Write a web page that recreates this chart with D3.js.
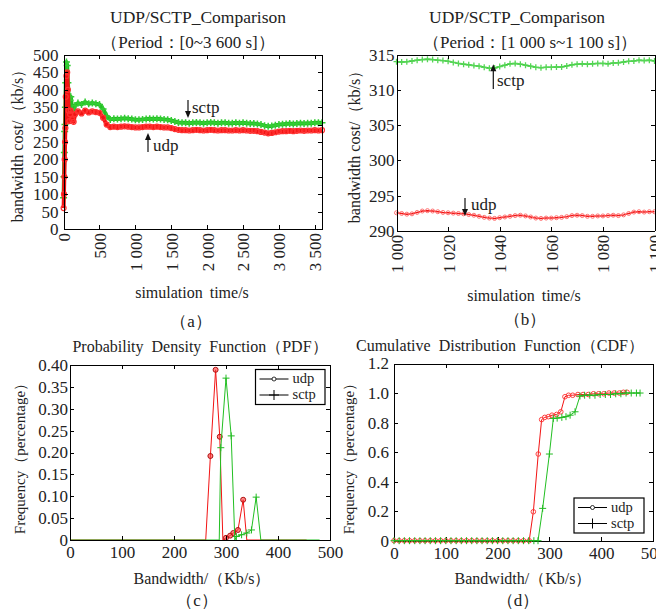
<!DOCTYPE html>
<html lang="en">
<head>
<meta charset="utf-8">
<title>UDP/SCTP comparison</title>
<script src="https://cdn.jsdelivr.net/npm/d3@7"></script>
<style>
    body { margin: 0; background: #fff; }
    text { font-family: "Liberation Serif", "Times New Roman", serif; fill: #222; }
    .axis path, .axis line { stroke: #000; shape-rendering: crispEdges; }
</style>
</head>
<body>
<script>
// (a) whole run 0 - 3600 s
const timeA = [0, 5, 10, 15, 20, 25, 30, 40, 50, 60, 70, 80, 90, 100, 120, 140, 160, 200, 250, 300, 350, 400, 450, 500, 550, 600, 650,
    700, 750, 800, 850, 900, 950, 1000, 1050, 1100, 1150, 1200, 1250, 1300, 1350, 1400, 1450, 1500, 1550, 1600, 1650,
    1700, 1750, 1800, 1850, 1900, 1950, 2000, 2050, 2100, 2150, 2200, 2250, 2300, 2350, 2400, 2450, 2500, 2550, 2600, 2650,
    2700, 2750, 2800, 2850, 2900, 2950, 3000, 3050, 3100, 3150, 3200, 3250, 3300, 3350, 3400, 3450, 3500, 3550, 3600]
const sctpA = [90, 150, 220, 280, 300, 350, 420, 480, 470, 420, 380, 340, 370, 380, 345, 337, 355, 362, 358, 365, 360, 362, 360, 358, 345, 325, 315,
    317, 316, 317, 318, 317, 316, 314, 314, 315, 316, 317, 316, 317, 316, 315, 314, 312, 309, 306, 305,
    305, 304, 305, 306, 305, 304, 305, 306, 305, 304, 305, 305, 304, 304, 305, 304, 305, 304, 303, 303,
    302, 300, 297, 295, 296, 298, 300, 301, 302, 303, 302, 303, 304, 303, 304, 304, 305, 305, 305]
const udpA = [60, 100, 150, 200, 250, 290, 380, 440, 450, 400, 340, 310, 330, 340, 315, 308, 330, 338, 332, 340, 335, 338, 336, 334, 320, 300, 293,
    294, 293, 294, 295, 294, 293, 292, 292, 293, 294, 294, 293, 294, 293, 292, 292, 290, 287, 285, 284,
    284, 283, 284, 285, 284, 283, 284, 285, 284, 283, 284, 284, 283, 283, 284, 283, 284, 283, 282, 282,
    281, 279, 277, 275, 276, 278, 280, 281, 281, 282, 281, 282, 283, 282, 283, 283, 284, 283, 284]

// (b) zoom 1000 - 1100 s
const timeB = [1000, 1002, 1004, 1006, 1008, 1010, 1012, 1014, 1016, 1018, 1020, 1022, 1024, 1026, 1028, 1030, 1032, 1034, 1036, 1038,
    1040, 1042, 1044, 1046, 1048, 1050, 1052, 1054, 1056, 1058, 1060, 1062, 1064, 1066, 1068, 1070, 1072, 1074, 1076, 1078,
    1080, 1082, 1084, 1086, 1088, 1090, 1092, 1094, 1096, 1098, 1100]
const sctpB = [314.05, 314.00, 314.05, 314.15, 314.25, 314.35, 314.40, 314.35, 314.25, 314.20, 314.10, 313.95, 313.80, 313.70, 313.60,
    313.50, 313.40, 313.25, 313.10, 313.15, 313.35, 313.55, 313.75, 313.80, 313.70, 313.55, 313.40, 313.25, 313.20, 313.25,
    313.25, 313.30, 313.30, 313.45, 313.60, 313.70, 313.75, 313.70, 313.75, 313.80, 313.80, 313.75, 313.85, 313.90, 314.00,
    314.10, 314.15, 314.25, 314.20, 314.25, 314.15]
const udpB = [292.55, 292.45, 292.35, 292.40, 292.60, 292.80, 292.85, 292.80, 292.70, 292.60, 292.55, 292.50, 292.45, 292.40, 292.30,
    292.20, 292.05, 291.90, 291.80, 291.75, 291.85, 291.95, 292.05, 292.15, 292.20, 292.10, 291.95, 291.80, 291.75, 291.80,
    291.80, 291.85, 291.90, 292.00, 292.15, 292.20, 292.15, 292.05, 292.05, 292.10, 292.10, 292.15, 292.20, 292.15, 292.25,
    292.45, 292.65, 292.70, 292.65, 292.70, 292.70]

// (c) PDF
const pdfBinsUdp = [0, 261, 270, 280, 288, 294, 300, 308, 314, 323, 333, 340, 455]
const pdfUdp = [0, 0, 0.192, 0.389, 0.236, 0, 0.005, 0.01, 0.016, 0.023, 0.092, 0, 0]
const pdfBinsSctp = [0, 287, 290, 300, 310, 317, 320, 330, 340, 349, 358, 367, 480]
const pdfSctp = [0, 0, 0.211, 0.37, 0.238, 0, 0.008, 0.012, 0.016, 0.023, 0.098, 0, 0]

// (d) CDF
const cdfBinsUdp = [0, 10, 20, 30, 40, 50, 60, 70, 80, 90, 100, 110, 120, 130, 140, 150, 160, 170, 180, 190, 200, 210, 220, 230, 240, 250,
    261, 269, 278.5, 285, 291, 298, 305, 314, 322, 330, 337, 345, 355, 365, 375, 385, 395, 405, 415, 425, 435, 443, 450]
const cdfUdp = [0, 0, 0, 0, 0, 0, 0, 0, 0, 0, 0, 0, 0, 0, 0, 0, 0, 0, 0, 0, 0, 0, 0, 0, 0, 0,
    0, 0.196, 0.587, 0.82, 0.835, 0.84, 0.85, 0.855, 0.873, 0.975, 0.985, 0.985, 0.99, 0.99, 0.99, 0.995, 0.995, 0.995, 1.0, 1.0, 1.0, 1.005, 1.005]
const cdfBinsSctp = [0, 10, 20, 30, 40, 50, 60, 70, 80, 90, 100, 110, 120, 130, 140, 150, 160, 170, 180, 190, 200, 210, 220, 230, 240, 250, 260, 270,
    278, 287, 300, 307.6, 315, 324, 332, 340, 349.5, 359, 368, 378, 388, 398, 408, 418, 428, 438, 448, 458, 468, 475]
const cdfSctp = [0, 0, 0, 0, 0, 0, 0, 0, 0, 0, 0, 0, 0, 0, 0, 0, 0, 0, 0, 0, 0, 0, 0, 0, 0, 0, 0, 0,
    0, 0.219, 0.587, 0.828, 0.83, 0.835, 0.84, 0.85, 0.873, 0.98, 0.985, 0.985, 0.985, 0.99, 0.99, 0.99, 0.995, 0.995, 1.0, 1.0, 1.0, 1.0]

const ticksA = { x: [0, 500, 1000, 1500, 2000, 2500, 3000, 3500], y: [0, 50, 100, 150, 200, 250, 300, 350, 400, 450, 500] }
const ticksB = { x: [1000, 1020, 1040, 1060, 1080, 1100], y: [290, 295, 300, 305, 310, 315] }
const ticksC = { x: [0, 100, 200, 300, 400, 500], y: [0, 0.05, 0.1, 0.15, 0.2, 0.25, 0.3, 0.35, 0.4] }
const ticksD = { x: [0, 100, 200, 300, 400, 500], y: [0, 0.2, 0.4, 0.6, 0.8, 1.0, 1.2] }

const RED = "#f21414", GREEN = "#22bf22"
const FONT = "'Liberation Serif', 'Times New Roman', serif"

const svg = d3.select("body").append("svg")
    .attr("width", 656)
    .attr("height", 610)

// thousands with a space, like "1 500"
const spaced = d => d < 1000 ? String(d) : Math.floor(d / 1000) + " " + String(d % 1000).padStart(3, "0")

function panel(o) {
    const x = d3.scaleLinear().domain(o.xd).range([o.l, o.r])
    const y = d3.scaleLinear().domain(o.yd).range([o.b, o.t])
    return { x, y, o }
}

function axes(p) {
    const { x, y, o } = p
    const bottom = svg.append("g").attr("class", "axis")
        .attr("transform", `translate(0,${o.b})`)
        .call(d3.axisBottom(x).tickValues(o.xt).tickSizeInner(-4).tickSizeOuter(0).tickPadding(o.xpad).tickFormat(o.xf))
    bottom.attr("font-size", o.fs).attr("font-family", FONT)
    if (o.rot) {
        bottom.selectAll("text")
            .attr("transform", "rotate(-90)")
            .attr("text-anchor", "end")
            .attr("x", -o.xpad)
            .attr("y", 0)
            .attr("dy", "0.35em")
    }
    svg.append("g").attr("class", "axis")
        .attr("transform", `translate(0,${o.t})`)
        .call(d3.axisTop(x).tickValues(o.xt).tickSizeInner(-4).tickSizeOuter(0).tickFormat(""))
    svg.append("g").attr("class", "axis")
        .attr("transform", `translate(${o.l},0)`)
        .call(d3.axisLeft(y).tickValues(o.yt).tickSizeInner(-4).tickSizeOuter(0).tickPadding(o.ypad).tickFormat(o.yf))
        .attr("font-size", o.fs).attr("font-family", FONT)
    svg.append("g").attr("class", "axis")
        .attr("transform", `translate(${o.r},0)`)
        .call(d3.axisRight(y).tickValues(o.yt).tickSizeInner(-4).tickSizeOuter(0).tickFormat(""))
}

function series(p, xs, ys, s) {
    const pts = xs.map((v, i) => [v, ys[i]])
    svg.append("path")
        .datum(pts)
        .attr("fill", "none")
        .attr("stroke", s.color)
        .attr("stroke-width", s.w)
        .attr("stroke-linejoin", "round")
        .attr("d", d3.line().x(d => p.x(d[0])).y(d => p.y(d[1])))
    const mp = s.markAll ? pts : pts.filter(d => d[1] > 0)
    marks(mp.map(d => [p.x(d[0]), p.y(d[1])]), s)
}

function marks(xy, s) {
    const g = svg.append("g")
    if (s.mark === "plus") {
        g.selectAll("path").data(xy).enter().append("path")
            .attr("d", d => `M${d[0] - s.ms},${d[1]}H${d[0] + s.ms}M${d[0]},${d[1] - s.ms}V${d[1] + s.ms}`)
            .attr("stroke", s.mc)
            .attr("stroke-width", s.mw)
            .attr("fill", "none")
    } else {
        g.selectAll("circle").data(xy).enter().append("circle")
            .attr("cx", d => d[0])
            .attr("cy", d => d[1])
            .attr("r", s.ms)
            .attr("stroke", s.mc)
            .attr("stroke-width", s.mw)
            .attr("fill", s.mf || "none")
    }
}

function label(x, y, str, size, opts = {}) {
    const t = svg.append("text")
        .attr("x", x).attr("y", y)
        .attr("font-size", size)
        .attr("text-anchor", opts.anchor || "middle")
        .attr("word-spacing", opts.ws || 0)
        .text(str)
    if (opts.rot) t.attr("transform", `rotate(-90,${x},${y})`)
    return t
}

function arrow(x, y1, y2) {
    // tip at y2
    const dir = y2 > y1 ? 1 : -1
    svg.append("line").attr("x1", x).attr("x2", x).attr("y1", y1).attr("y2", y2 - dir * 5)
        .attr("stroke", "#111").attr("stroke-width", 1.2)
    svg.append("path")
        .attr("d", `M${x},${y2}L${x - 3},${y2 - dir * 7}L${x + 3},${y2 - dir * 7}Z`)
        .attr("fill", "#111")
}

function legend(x, y, w, h) {
    svg.append("rect").attr("x", x).attr("y", y).attr("width", w).attr("height", h)
        .attr("fill", "#fff").attr("stroke", "#000").attr("stroke-width", 1.2)
    const rows = [["udp", "circle"], ["sctp", "plus"]]
    rows.forEach((r, i) => {
        const ly = y + 9.5 + i * 16
        svg.append("line").attr("x1", x + 4).attr("x2", x + 33).attr("y1", ly).attr("y2", ly)
            .attr("stroke", "#000").attr("stroke-width", 1)
        marks([[x + 18.5, ly]], r[1] === "plus"
            ? { mark: "plus", ms: 5, mc: "#000", mw: 1 }
            : { mark: "circle", ms: 2, mc: "#000", mw: 0.8, mf: "#fff" })
        svg.append("text").attr("x", x + 37).attr("y", ly).attr("dy", "0.3em")
            .attr("font-size", 14.5).text(r[0])
    })
}

// ---------- (a)
const pa = panel({ xd: [0, 3600], yd: [0, 500], l: 63.6, r: 322, t: 55, b: 229,
    xt: ticksA.x, yt: ticksA.y, xf: spaced, yf: d => d, fs: 17, xpad: 4, ypad: 5, rot: true })
series(pa, timeA, sctpA, { color: GREEN, w: 4, mark: "plus", ms: 3.5, mc: "#33cc33", mw: 1.5, markAll: true })
series(pa, timeA, udpA, { color: RED, w: 4, mark: "circle", ms: 2.5, mc: "#ff3030", mw: 1.2, markAll: true })
axes(pa)
arrow(188, 100, 118)
label(192, 113, "sctp", 17, { anchor: "start" })
arrow(148, 152, 133)
label(153, 151, "udp", 17, { anchor: "start" })
label(198, 23, "UDP/SCTP_Comparison", 17.5)
label(188, 48, "（Period：[0~3 600 s]）", 17)
label(23, 142, "bandwidth  cost/（kb/s）", 16, { rot: true })
label(192, 298, "simulation  time/s", 16, { ws: 3 })
label(191, 327, "（a）", 17)

// ---------- (b)
const pb = panel({ xd: [1000, 1100], yd: [290, 315], l: 396.5, r: 654.5, t: 55, b: 230.7,
    xt: ticksB.x, yt: ticksB.y, xf: spaced, yf: d => d, fs: 17, xpad: 4, ypad: 2, rot: true })
series(pb, timeB, sctpB, { color: GREEN, w: 1.5, mark: "plus", ms: 3, mc: "#55d655", mw: 1.3, markAll: true })
series(pb, timeB, udpB, { color: RED, w: 1.5, mark: "circle", ms: 2, mc: "#ff7070", mw: 1, markAll: true })
axes(pb)
arrow(493.3, 89, 64.3)
label(497, 86, "sctp", 17, { anchor: "start" })
arrow(465, 198, 216)
label(471, 210, "udp", 17, { anchor: "start" })
label(517, 23, "UDP/SCTP_Comparison", 17.5)
label(530, 48, "（Period：[1 000 s~1 100 s]）", 17)
label(360, 143, "bandwidth  cost/（kb/s）", 16, { rot: true })
label(524, 301, "simulation  time/s", 16, { ws: 3 })
label(525, 325, "（b）", 17)

// ---------- (c)
const pc = panel({ xd: [0, 500], yd: [0, 0.4], l: 70, r: 330, t: 365, b: 540,
    xt: ticksC.x, yt: ticksC.y, xf: d => d, yf: d => d === 0 ? "0" : d.toFixed(2), fs: 17, xpad: 6, ypad: 2 })
series(pc, pdfBinsUdp, pdfUdp, { color: RED, w: 1, mark: "circle", ms: 2.5, mc: "#b01010", mw: 1, mf: "rgba(255,60,60,0.6)" })
series(pc, pdfBinsSctp, pdfSctp, { color: GREEN, w: 1, mark: "plus", ms: 3.5, mc: "#22bb22", mw: 1 })
axes(pc)
legend(255.5, 369.5, 69.5, 35)
label(200, 352, "Probability Density Function（PDF）", 16, { ws: 4 })
label(25, 455, "Frequency（percentage）", 15, { rot: true })
label(202, 584, "Bandwidth/（Kb/s）", 16)
label(197, 606, "（c）", 17)

// ---------- (d)
const pd = panel({ xd: [0, 500], yd: [0, 1.2], l: 394, r: 653, t: 363.5, b: 540.7,
    xt: ticksD.x, yt: ticksD.y, xf: d => d, yf: d => d === 0 ? "0" : d.toFixed(1), fs: 17, xpad: 6, ypad: 5 })
axes(pd)
series(pd, cdfBinsUdp, cdfUdp, { color: RED, w: 1, mark: "circle", ms: 2.3, mc: "#ff4040", mw: 1, markAll: true })
series(pd, cdfBinsSctp, cdfSctp, { color: GREEN, w: 1, mark: "plus", ms: 3.5, mc: "#22bb22", mw: 1, markAll: true })
legend(574, 498, 70, 35)
label(500, 351, "Cumulative Distribution Function（CDF）", 16, { ws: 4 })
label(354, 455, "Frequency（percentage）", 15, { rot: true })
label(523, 584, "Bandwidth/（Kb/s）", 16)
label(518, 606, "（d）", 17)
</script>
</body>
</html>
